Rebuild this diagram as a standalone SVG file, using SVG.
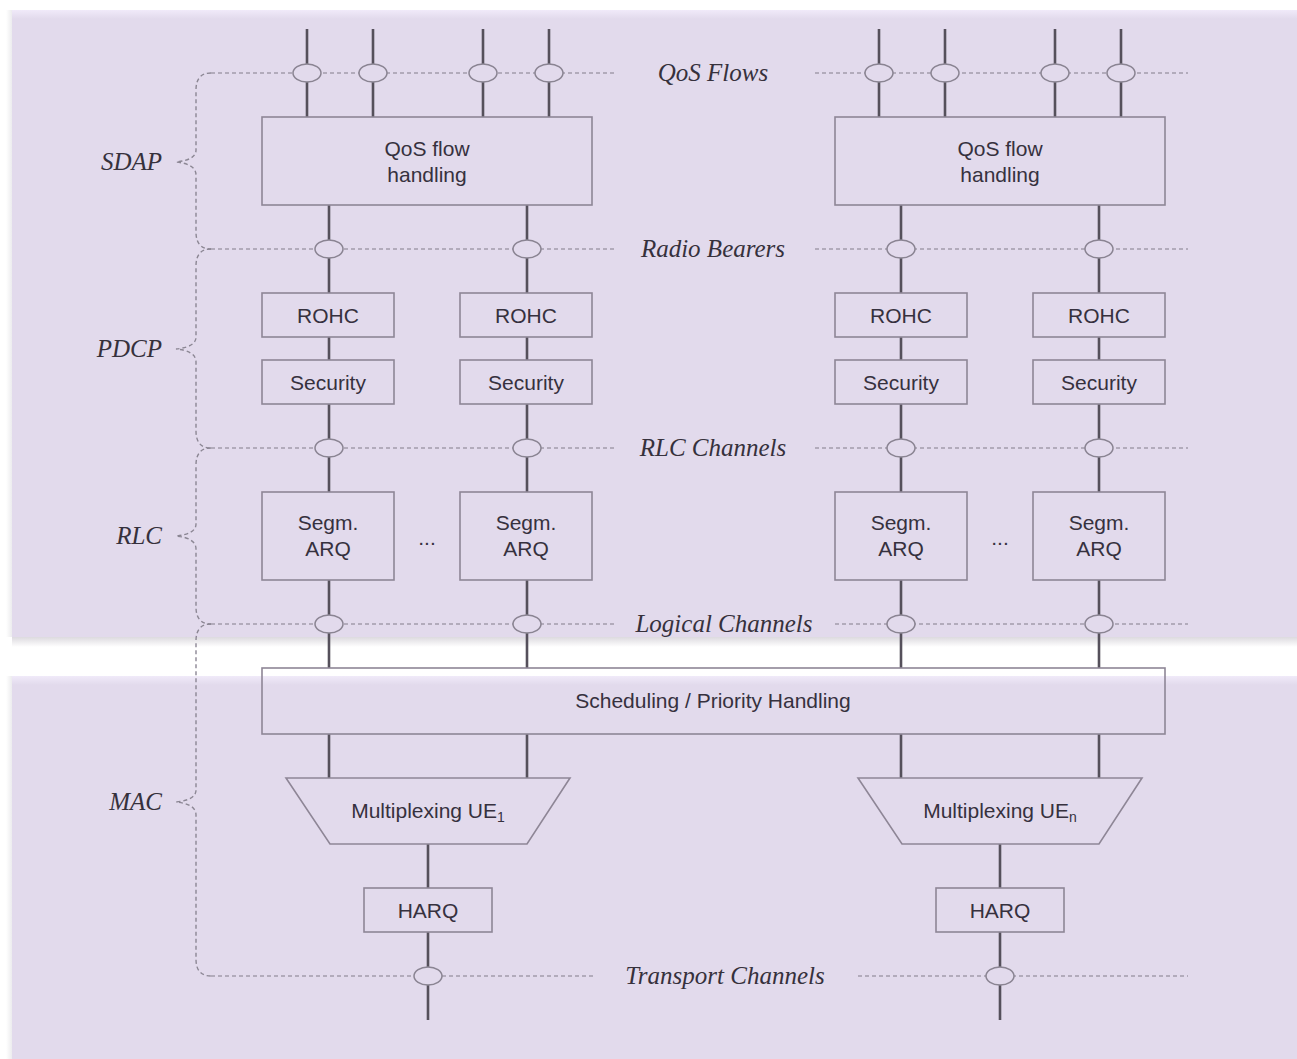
<svg xmlns="http://www.w3.org/2000/svg" width="1297" height="1059" viewBox="0 0 1297 1059">
  <defs>
    <linearGradient id="topBand" x1="0" y1="0" x2="0" y2="1">
      <stop offset="0" stop-color="#f0eaf9"/>
      <stop offset="1" stop-color="#e2daec"/>
    </linearGradient>
    <linearGradient id="shadowDown" x1="0" y1="0" x2="0" y2="1">
      <stop offset="0" stop-color="#dcdadf"/>
      <stop offset="1" stop-color="#ffffff"/>
    </linearGradient>
    <linearGradient id="shadowLeft" x1="1" y1="0" x2="0" y2="0">
      <stop offset="0" stop-color="#ececee"/>
      <stop offset="1" stop-color="#ffffff"/>
    </linearGradient>
    <style>
      .bg { fill: #e2daec; }
      .box { fill: none; stroke: #8e8696; stroke-width: 1.6; }
      .boxtxt { font-family: "Liberation Sans", Arial, sans-serif; font-size: 21px; fill: #36313e; text-anchor: middle; }
      .lbl { font-family: "Liberation Serif", "Times New Roman", serif; font-style: italic; font-size: 25px; fill: #36313c; text-anchor: middle; }
      .side { font-family: "Liberation Serif", "Times New Roman", serif; font-style: italic; font-size: 25px; fill: #36313c; text-anchor: end; }
      .link { stroke: #55505b; stroke-width: 2.6; fill: none; }
      .dash { stroke: #a29cab; stroke-width: 1.6; stroke-dasharray: 4 3; fill: none; }
      .brace { stroke: #8c8794; stroke-width: 1.4; stroke-dasharray: 4 3; fill: none; }
      .sap { fill: #e2daec; stroke: #8a8492; stroke-width: 1.5; }
    </style>
  </defs>

  <!-- page background -->
  <rect x="0" y="0" width="1297" height="1059" fill="#ffffff"/>
  <rect x="6" y="10" width="6" height="627" fill="url(#shadowLeft)"/>
  <rect x="6" y="676" width="6" height="383" fill="url(#shadowLeft)"/>
  <rect x="12" y="10" width="1285" height="627" class="bg"/>
  <rect x="12" y="10" width="1285" height="9" fill="url(#topBand)"/>
  <rect x="12" y="637" width="1285" height="10" fill="url(#shadowDown)"/>
  <rect x="12" y="676" width="1285" height="383" class="bg"/>
  <rect x="12" y="676" width="1285" height="9" fill="url(#topBand)"/>

  <!-- layer braces and channel lines -->
  <g id="layer-lines">
    <path class="brace" d="M211 73 Q196 73 196 90 L196 150 Q196 160 176 162 Q196 164 196 175 L196 232 Q196 249 211 249"/>
    <path class="brace" d="M211 249 Q196 249 196 266 L196 337 Q196 347 176 349 Q196 351 196 362 L196 431 Q196 448 211 448"/>
    <path class="brace" d="M211 448 Q196 448 196 465 L196 524 Q196 534 176 536 Q196 538 196 549 L196 607 Q196 624 211 624"/>
    <path class="brace" d="M211 624 Q196 624 196 641 L196 790 Q196 800 176 802 Q196 804 196 815 L196 959 Q196 976 211 976"/>

    <line class="dash" x1="211" y1="73" x2="615" y2="73"/>
    <line class="dash" x1="815" y1="73" x2="1188" y2="73"/>
    <line class="dash" x1="211" y1="249" x2="615" y2="249"/>
    <line class="dash" x1="815" y1="249" x2="1188" y2="249"/>
    <line class="dash" x1="211" y1="448" x2="615" y2="448"/>
    <line class="dash" x1="815" y1="448" x2="1188" y2="448"/>
    <line class="dash" x1="211" y1="624" x2="615" y2="624"/>
    <line class="dash" x1="835" y1="624" x2="1188" y2="624"/>
    <line class="dash" x1="211" y1="976" x2="595" y2="976"/>
    <line class="dash" x1="858" y1="976" x2="1188" y2="976"/>
  </g>

  <!-- connectors -->
  <g id="connectors">
    <path class="link" d="M307 29 V117 M373 29 V117 M483 29 V117 M549 29 V117"/>
    <path class="link" d="M879 29 V117 M945 29 V117 M1055 29 V117 M1121 29 V117"/>
    <path class="link" d="M329 205 V293 M527 205 V293 M901 205 V293 M1099 205 V293"/>
    <path class="link" d="M329 337 V360 M527 337 V360 M901 337 V360 M1099 337 V360"/>
    <path class="link" d="M329 404 V492 M527 404 V492 M901 404 V492 M1099 404 V492"/>
    <path class="link" d="M329 580 V668 M527 580 V668 M901 580 V668 M1099 580 V668"/>
    <path class="link" d="M329 734 V778 M527 734 V778 M901 734 V778 M1099 734 V778"/>
    <path class="link" d="M428 844 V888 M1000 844 V888"/>
    <path class="link" d="M428 932 V1020 M1000 932 V1020"/>
  </g>

  <!-- service access points -->
  <g id="saps">
    <ellipse class="sap" cx="307" cy="73" rx="14" ry="9"/>
    <ellipse class="sap" cx="373" cy="73" rx="14" ry="9"/>
    <ellipse class="sap" cx="483" cy="73" rx="14" ry="9"/>
    <ellipse class="sap" cx="549" cy="73" rx="14" ry="9"/>
    <ellipse class="sap" cx="879" cy="73" rx="14" ry="9"/>
    <ellipse class="sap" cx="945" cy="73" rx="14" ry="9"/>
    <ellipse class="sap" cx="1055" cy="73" rx="14" ry="9"/>
    <ellipse class="sap" cx="1121" cy="73" rx="14" ry="9"/>
    <ellipse class="sap" cx="329" cy="249" rx="14" ry="9"/>
    <ellipse class="sap" cx="527" cy="249" rx="14" ry="9"/>
    <ellipse class="sap" cx="901" cy="249" rx="14" ry="9"/>
    <ellipse class="sap" cx="1099" cy="249" rx="14" ry="9"/>
    <ellipse class="sap" cx="329" cy="448" rx="14" ry="9"/>
    <ellipse class="sap" cx="527" cy="448" rx="14" ry="9"/>
    <ellipse class="sap" cx="901" cy="448" rx="14" ry="9"/>
    <ellipse class="sap" cx="1099" cy="448" rx="14" ry="9"/>
    <ellipse class="sap" cx="329" cy="624" rx="14" ry="9"/>
    <ellipse class="sap" cx="527" cy="624" rx="14" ry="9"/>
    <ellipse class="sap" cx="901" cy="624" rx="14" ry="9"/>
    <ellipse class="sap" cx="1099" cy="624" rx="14" ry="9"/>
    <ellipse class="sap" cx="428" cy="976" rx="14" ry="9"/>
    <ellipse class="sap" cx="1000" cy="976" rx="14" ry="9"/>
  </g>

  <!-- channel labels -->
  <g id="channel-labels">
    <text class="lbl" x="713" y="81">QoS Flows</text>
    <text class="lbl" x="713" y="257">Radio Bearers</text>
    <text class="lbl" x="713" y="456">RLC Channels</text>
    <text class="lbl" x="724" y="632">Logical Channels</text>
    <text class="lbl" x="725" y="984">Transport Channels</text>
  </g>

  <!-- layer names -->
  <g id="layer-names">
    <text class="side" x="162" y="170">SDAP</text>
    <text class="side" x="162" y="357">PDCP</text>
    <text class="side" x="162" y="544">RLC</text>
    <text class="side" x="162" y="810">MAC</text>
  </g>

  <!-- SDAP -->
  <g id="qos-handling-1">
    <rect class="box" x="262" y="117" width="330" height="88"/>
    <text class="boxtxt" x="427" y="156">QoS flow</text>
    <text class="boxtxt" x="427" y="182">handling</text>
  </g>
  <g id="qos-handling-2">
    <rect class="box" x="835" y="117" width="330" height="88"/>
    <text class="boxtxt" x="1000" y="156">QoS flow</text>
    <text class="boxtxt" x="1000" y="182">handling</text>
  </g>

  <!-- PDCP -->
  <g id="rohc-1"><rect class="box" x="262" y="293" width="132" height="44"/><text class="boxtxt" x="328" y="323">ROHC</text></g>
  <g id="rohc-2"><rect class="box" x="460" y="293" width="132" height="44"/><text class="boxtxt" x="526" y="323">ROHC</text></g>
  <g id="rohc-3"><rect class="box" x="835" y="293" width="132" height="44"/><text class="boxtxt" x="901" y="323">ROHC</text></g>
  <g id="rohc-4"><rect class="box" x="1033" y="293" width="132" height="44"/><text class="boxtxt" x="1099" y="323">ROHC</text></g>
  <g id="security-1"><rect class="box" x="262" y="360" width="132" height="44"/><text class="boxtxt" x="328" y="390">Security</text></g>
  <g id="security-2"><rect class="box" x="460" y="360" width="132" height="44"/><text class="boxtxt" x="526" y="390">Security</text></g>
  <g id="security-3"><rect class="box" x="835" y="360" width="132" height="44"/><text class="boxtxt" x="901" y="390">Security</text></g>
  <g id="security-4"><rect class="box" x="1033" y="360" width="132" height="44"/><text class="boxtxt" x="1099" y="390">Security</text></g>

  <!-- RLC -->
  <g id="segm-1"><rect class="box" x="262" y="492" width="132" height="88"/><text class="boxtxt" x="328" y="530">Segm.</text><text class="boxtxt" x="328" y="556">ARQ</text></g>
  <g id="segm-2"><rect class="box" x="460" y="492" width="132" height="88"/><text class="boxtxt" x="526" y="530">Segm.</text><text class="boxtxt" x="526" y="556">ARQ</text></g>
  <g id="segm-3"><rect class="box" x="835" y="492" width="132" height="88"/><text class="boxtxt" x="901" y="530">Segm.</text><text class="boxtxt" x="901" y="556">ARQ</text></g>
  <g id="segm-4"><rect class="box" x="1033" y="492" width="132" height="88"/><text class="boxtxt" x="1099" y="530">Segm.</text><text class="boxtxt" x="1099" y="556">ARQ</text></g>
  <g id="ellipsis-1"><text class="boxtxt" x="427" y="545">...</text></g>
  <g id="ellipsis-2"><text class="boxtxt" x="1000" y="545">...</text></g>

  <!-- MAC -->
  <g id="scheduling">
    <rect class="box" x="262" y="668" width="903" height="66"/>
    <text class="boxtxt" x="713" y="708">Scheduling / Priority Handling</text>
  </g>
  <g id="mux-1">
    <polygon class="box" points="286,778 570,778 527,844 330,844"/>
    <text class="boxtxt" x="428" y="818">Multiplexing UE<tspan font-size="14" dy="4">1</tspan></text>
  </g>
  <g id="mux-n">
    <polygon class="box" points="858,778 1142,778 1099,844 902,844"/>
    <text class="boxtxt" x="1000" y="818">Multiplexing UE<tspan font-size="14" dy="4">n</tspan></text>
  </g>
  <g id="harq-1"><rect class="box" x="364" y="888" width="128" height="44"/><text class="boxtxt" x="428" y="918">HARQ</text></g>
  <g id="harq-n"><rect class="box" x="936" y="888" width="128" height="44"/><text class="boxtxt" x="1000" y="918">HARQ</text></g>
</svg>
